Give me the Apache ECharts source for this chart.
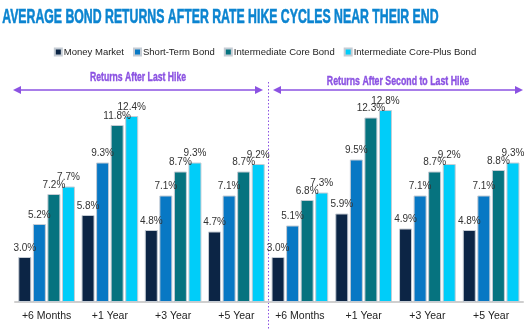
<!DOCTYPE html>
<html><head><meta charset="utf-8">
<script src="https://cdn.jsdelivr.net/npm/echarts@6/dist/echarts.min.js"></script>
<style>html,body{margin:0;padding:0;background:#fff}#c{width:530px;height:330px}</style>
</head><body><div id="c"></div>
<script>
const categories = ['+6 Months', '+1 Year', '+3 Year', '+5 Year'];
const seriesNames = ['Money Market', 'Short-Term Bond', 'Intermediate Core Bond', 'Intermediate Core-Plus Bond'];
const colors = ['#0c2545', '#0878c4', '#06737f', '#00cdf9'];
const lastHike = {
  'Money Market': [3.0, 5.8, 4.8, 4.7],
  'Short-Term Bond': [5.2, 9.3, 7.1, 7.1],
  'Intermediate Core Bond': [7.2, 11.8, 8.7, 8.7],
  'Intermediate Core-Plus Bond': [7.7, 12.4, 9.3, 9.2]
};
const secondToLastHike = {
  'Money Market': [3.0, 5.9, 4.9, 4.8],
  'Short-Term Bond': [5.1, 9.5, 7.1, 7.1],
  'Intermediate Core Bond': [6.8, 12.3, 8.7, 8.8],
  'Intermediate Core-Plus Bond': [7.3, 12.8, 9.2, 9.3]
};
const panelTitles = ['Returns After Last Hike', 'Returns After Second to Last Hike'];
const mainTitle = 'AVERAGE BOND RETURNS AFTER RATE HIKE CYCLES NEAR THEIR END';

const sans = '"Liberation Sans", Arial, sans-serif';
const purple = '#8b52e2';

function mkSeries(data, idx) {
  return seriesNames.map((n, i) => ({
    name: n, type: 'bar', xAxisIndex: idx, yAxisIndex: idx,
    data: data[n], barWidth: 13, barGap: '12%',
    itemStyle: { color: colors[i], borderColor: '#c5ccd4', borderWidth: 1 },
    label: { show: true, position: 'top', distance: 4, formatter: p => p.value.toFixed(1) + '%',
      fontFamily: sans, fontSize: 10, color: '#333' }
  }));
}

function arrow(x1, x2, y) {
  return [
    { type: 'line', shape: { x1: x1 + 6, y1: y, x2: x2 - 6, y2: y }, style: { stroke: purple, lineWidth: 1.5 } },
    { type: 'polygon', shape: { points: [[x1, y], [x1 + 8, y - 4], [x1 + 8, y + 4]] }, style: { fill: purple } },
    { type: 'polygon', shape: { points: [[x2, y], [x2 - 8, y - 4], [x2 - 8, y + 4]] }, style: { fill: purple } }
  ];
}

const chart = echarts.init(document.getElementById('c'));
const xAxisCommon = {
  type: 'category', data: categories,
  axisLine: { lineStyle: { color: '#cfcfcf', width: 2 } },
  axisTick: { show: false },
  axisLabel: { interval: 0, fontFamily: sans, fontSize: 10.5, color: '#222', margin: 9 }
};
const yAxisCommon = { type: 'value', min: 0, max: 13, show: false, splitLine: { show: false } };

chart.setOption({
  animation: false,
  legend: {
    data: seriesNames, top: 42, left: 'center', width: 520, itemWidth: 7, itemHeight: 7, itemGap: 9,
    icon: 'rect',
    textStyle: { fontFamily: sans, fontSize: 9.5, color: '#222', padding: [0, 0, 0, -3] }
  },
  grid: [
    { left: 15, width: 253, bottom: 28, height: 195 },
    { left: 268, width: 255, bottom: 28, height: 195 }
  ],
  xAxis: [Object.assign({ gridIndex: 0 }, xAxisCommon), Object.assign({ gridIndex: 1 }, xAxisCommon)],
  yAxis: [Object.assign({ gridIndex: 0 }, yAxisCommon), Object.assign({ gridIndex: 1 }, yAxisCommon)],
  series: mkSeries(lastHike, 0).concat(mkSeries(secondToLastHike, 1)),
  graphic: [
    { type: 'text', left: 2, top: 6, scaleX: 0.585,
      style: { text: mainTitle, font: 'bold 21px "Liberation Sans", sans-serif', fill: '#0b84d0', stroke: '#0b84d0', lineWidth: 0.6 } },
    { type: 'text', x: 138, y: 77, scaleX: 0.665,
      style: { text: panelTitles[0], font: 'bold 13px "Liberation Sans", sans-serif', fill: purple, stroke: purple, lineWidth: 0.4, textAlign: 'center', textVerticalAlign: 'middle' } },
    { type: 'text', x: 398, y: 81, scaleX: 0.675,
      style: { text: panelTitles[1], font: 'bold 13px "Liberation Sans", sans-serif', fill: purple, stroke: purple, lineWidth: 0.4, textAlign: 'center', textVerticalAlign: 'middle' } },
    { type: 'line', shape: { x1: 268.5, y1: 82, x2: 268.5, y2: 330 }, style: { stroke: purple, lineWidth: 1, lineDash: [1.5, 2] } }
  ].concat(arrow(13, 263, 90), arrow(273, 523, 90))
});
</script></body></html>
